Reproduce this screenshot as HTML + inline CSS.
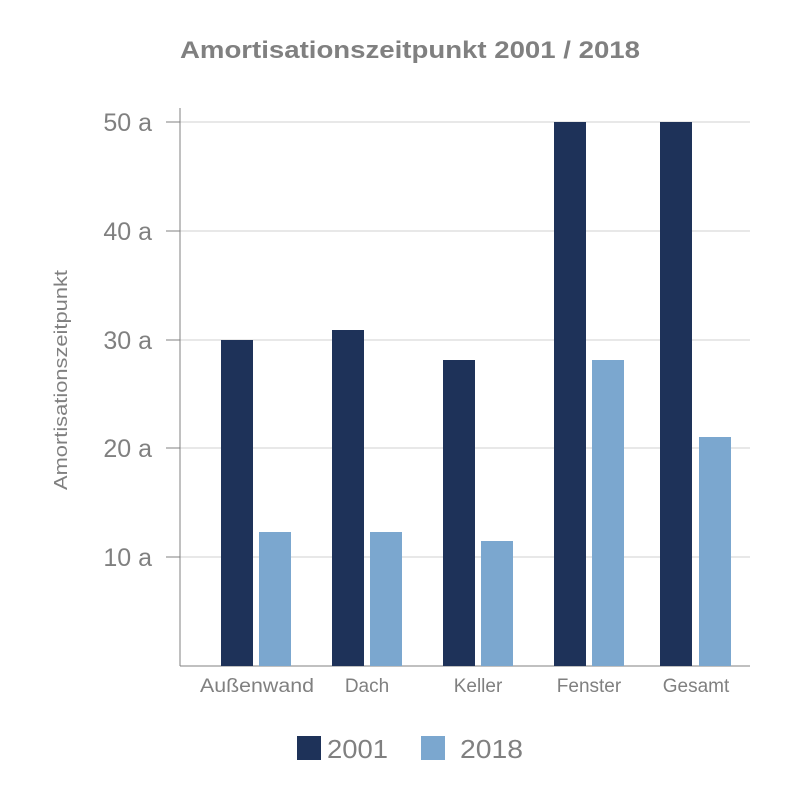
<!DOCTYPE html>
<html><head><meta charset="utf-8"><style>
body{margin:0;background:#fff}
</style></head><body>
<svg width="800" height="800" xmlns="http://www.w3.org/2000/svg" font-family="Liberation Sans, sans-serif">
<rect width="800" height="800" fill="#fff"/>
<text x="410" y="58" text-anchor="middle" font-size="24" font-weight="bold" fill="#808080" textLength="460" lengthAdjust="spacingAndGlyphs">Amortisationszeitpunkt 2001 / 2018</text>
<g stroke="#d0d0d0" stroke-width="1">
<line x1="180" y1="122" x2="750" y2="122"/>
<line x1="180" y1="231" x2="750" y2="231"/>
<line x1="180" y1="340" x2="750" y2="340"/>
<line x1="180" y1="448" x2="750" y2="448"/>
<line x1="180" y1="557" x2="750" y2="557"/>
</g>
<g stroke="#808080" stroke-width="1">
<line x1="180" y1="108" x2="180" y2="666"/>
<line x1="180" y1="666" x2="750" y2="666"/>
<line x1="166" y1="122" x2="180" y2="122"/>
<line x1="166" y1="231" x2="180" y2="231"/>
<line x1="166" y1="340" x2="180" y2="340"/>
<line x1="166" y1="448" x2="180" y2="448"/>
<line x1="166" y1="557" x2="180" y2="557"/>
</g>
<g font-size="25" fill="#808080" text-anchor="end">
<text x="152" y="131">50 a</text>
<text x="152" y="240">40 a</text>
<text x="152" y="349">30 a</text>
<text x="152" y="457">20 a</text>
<text x="152" y="566">10 a</text>
</g>
<text transform="translate(67,380) rotate(-90)" text-anchor="middle" font-size="18" fill="#808080" textLength="220" lengthAdjust="spacingAndGlyphs">Amortisationszeitpunkt</text>
<g fill="#1e3259">
<rect x="221" y="340" width="32" height="326"/>
<rect x="332" y="330" width="32" height="336"/>
<rect x="443" y="360" width="32" height="306"/>
<rect x="554" y="122" width="32" height="544"/>
<rect x="660" y="122" width="32" height="544"/>
</g>
<g fill="#7ba7cf">
<rect x="259" y="532" width="32" height="134"/>
<rect x="370" y="532" width="32" height="134"/>
<rect x="481" y="541" width="32" height="125"/>
<rect x="592" y="360" width="32" height="306"/>
<rect x="699" y="437" width="32" height="229"/>
</g>
<g font-size="19" fill="#808080" text-anchor="middle">
<text x="257" y="692" textLength="114" lengthAdjust="spacingAndGlyphs">Außenwand</text>
<text x="367" y="692">Dach</text>
<text x="478" y="692">Keller</text>
<text x="589" y="692">Fenster</text>
<text x="696" y="692">Gesamt</text>
</g>
<rect x="297" y="736" width="24" height="24" fill="#1e3259"/>
<text x="327" y="758" font-size="26" fill="#808080" textLength="61" lengthAdjust="spacingAndGlyphs">2001</text>
<rect x="421" y="736" width="24" height="24" fill="#7ba7cf"/>
<text x="460" y="758" font-size="26" fill="#808080" textLength="63" lengthAdjust="spacingAndGlyphs">2018</text>
</svg>
</body></html>
